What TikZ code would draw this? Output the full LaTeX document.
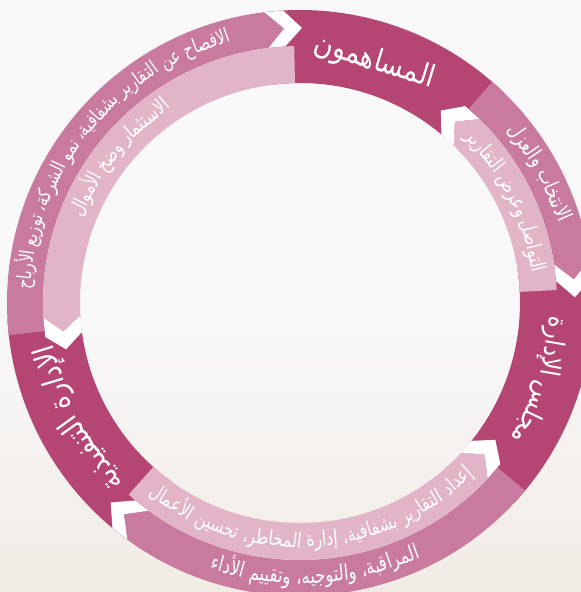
\documentclass[tikz,border=0pt]{standalone}
\usepackage{fontspec}
\usepackage{graphicx}
\newfontfamily\arabicfont[Script=Arabic]{DejaVu Sans}
\TeXXeTstate=1
\definecolor{segdark}{HTML}{B54573}
\definecolor{midband}{HTML}{C97B9F}
\definecolor{lightband}{HTML}{E2B4C8}
\definecolor{bgtop}{HTML}{F8F8F8}
\definecolor{bgbot}{HTML}{F1EBE5}
\newdimen\arcwd
\newbox\alBox
% measure a word (global box, outside picture font handling)
\newcommand\almeasure[2]{%
  \pgfinterruptpicture
    \global\setbox\alBox\hbox{\normalfont\arabicfont\fontsize{#1pt}{#1pt}\selectfont\beginR#2\endR}%
  \endpgfinterruptpicture
  \arcwd=\wd\alBox}
% dark sector over the full ring width
\newcommand\darkseg[2]{%
  \fill[segdark] (#1:293pt) arc[start angle=#1,end angle=#2,radius=293pt]
    -- (#2:220pt) arc[start angle=#2,end angle=#1,radius=220pt] -- cycle;}
% band with arrow tip and white chevron gap
% #1 colour, #2 r1, #3 r2, #4 start angle, #5 arm angle, #6 tip angle, #7 notch tip angle
\newcommand\arrowband[7]{%
  \pgfmathsetmacro\rc{(#2+#3)/2}%
  \pgfmathsetmacro\gp{#7-#6}%
  \pgfmathsetmacro\farm{#5+\gp}%
  \fill[#1] (#4:#3pt) arc[start angle=#4,end angle=#5,radius=#3pt]
    -- (#6:\rc pt) -- (#5:#2pt) arc[start angle=#5,end angle=#4,radius=#2pt] -- cycle;
  \fill[white] (#5:#3pt) -- (#6:\rc pt) -- (#5:#2pt) -- (\farm:#2pt)
    -- (#7:\rc pt) -- (\farm:#3pt) -- cycle;}
% words set along an arc
% #1 radius, #2 centre angle, #3 span (deg), #4 mode (1 tops out, -1 tops in),
% #5 base size, #6 name, #7 vertical stretch, #8 words
\newcommand\arclabel[8]{%
  \gdef\alW{0}\gdef\alN{0}%
  \foreach \w in {#8}{%
    \almeasure{#5}{\w}%
    \pgfmathsetmacro\alT{\alW+\arcwd}\xdef\alW{\alT}%
    \pgfmathtruncatemacro\alT{\alN+1}\xdef\alN{\alT}%
  }%
  \almeasure{#5}{\ }%
  \pgfmathsetmacro\alS{\arcwd}%
  \pgfmathsetmacro\alF{(#3*pi/180*#1)/(\alW+(\alN-1)*\alS)}%
  \pgfmathsetmacro\alFy{\alF*#7}%
  \pgfmathsetmacro\alStart{#2-#4*#3/2}%
  \pgfmathsetmacro\alR{#1-#4*0.25*#5*\alFy}%
  \gdef\alD{0}%
  \foreach \w [count=\i] in {#8}{%
    \almeasure{#5}{\w}%
    \pgfmathsetmacro\alA{\alStart+#4*(\alD+\arcwd/2)*\alF/#1*180/pi}%
    \pgfmathsetmacro\alRot{\alA-#4*90}%
    \node[bandtext, rotate=\alRot] (#6-\i) at (\alA:\alR pt)
      {\scalebox{\alF}[\alFy]{\arabicfont\fontsize{#5pt}{#5pt}\selectfont\beginR\w\endR}};
    \pgfmathsetmacro\alT{\alD+\arcwd+\alS}\xdef\alD{\alT}%
  }%
}
\begin{document}
\begin{tikzpicture}[x=1pt,y=1pt,
  bandtext/.style={text=white, inner sep=0pt, anchor=base}]
\useasboundingbox (-300,-289) rectangle (281,303);
\clip (-300,-289) rectangle (281,303);
\fill[bgtop] (-300,-289) rectangle (281,303);
\shade[top color=bgtop, bottom color=bgbot] (-300,-289) rectangle (281,-20);
% dark segments
\darkseg{45.7}{97}
\darkseg{-43.1}{8.6}
\darkseg{183.3}{234}
% bands
\arrowband{midband}{257}{293}{186.3}{97}{93.3}{89.6}
\arrowband{lightband}{220}{257}{91.3}{183.3}{186.9}{191.2}
\arrowband{midband}{257}{293}{49}{8.6}{4.9}{1.2}
\arrowband{lightband}{220}{257}{2.9}{45.7}{49.5}{53.8}
\arrowband{midband}{257}{293}{-39.8}{-126.1}{-129.8}{-133.5}
\arrowband{lightband}{220}{257}{-131.8}{-43.1}{-39.3}{-35.0}
% texts
\arclabel{275}{141}{72.3}{1}{10}{t1}{1.3}{الافصاح,عن,التقارير,بشفافية،,نمو,الشركة،,توزيع,الأرباح}
\arclabel{238.5}{141}{35}{1}{10}{t2}{1.3}{الاستثمار,وضخ,الأموال}
\arclabel{275}{28.5}{22.5}{1}{10}{t3}{1.3}{الانتخاب,والعزل}
\arclabel{238.5}{26.3}{37.8}{1}{10}{t4}{1.3}{التواصل,وعرض,التقارير}
\arclabel{275}{-86.7}{44.3}{-1}{10}{t5}{1.3}{المراقبة،,والتوجيه،,وتقييم,الأداء}
\arclabel{238.5}{-86.5}{84}{-1}{10}{t6}{1.3}{إعداد,التقارير,بشفافية،,إدارة,المخاطر،,تحسين,الأعمال}
\arclabel{252}{72.8}{28.4}{1}{10}{l1}{1.15}{المساهمون}
\arclabel{256}{-17.8}{29.5}{1}{10}{l2}{1.15}{مجلس,الإدارة}
\arclabel{256}{207.5}{36}{1}{10}{l3}{1.15}{الإدارة,التنفيذية}
\end{tikzpicture}
\end{document}
